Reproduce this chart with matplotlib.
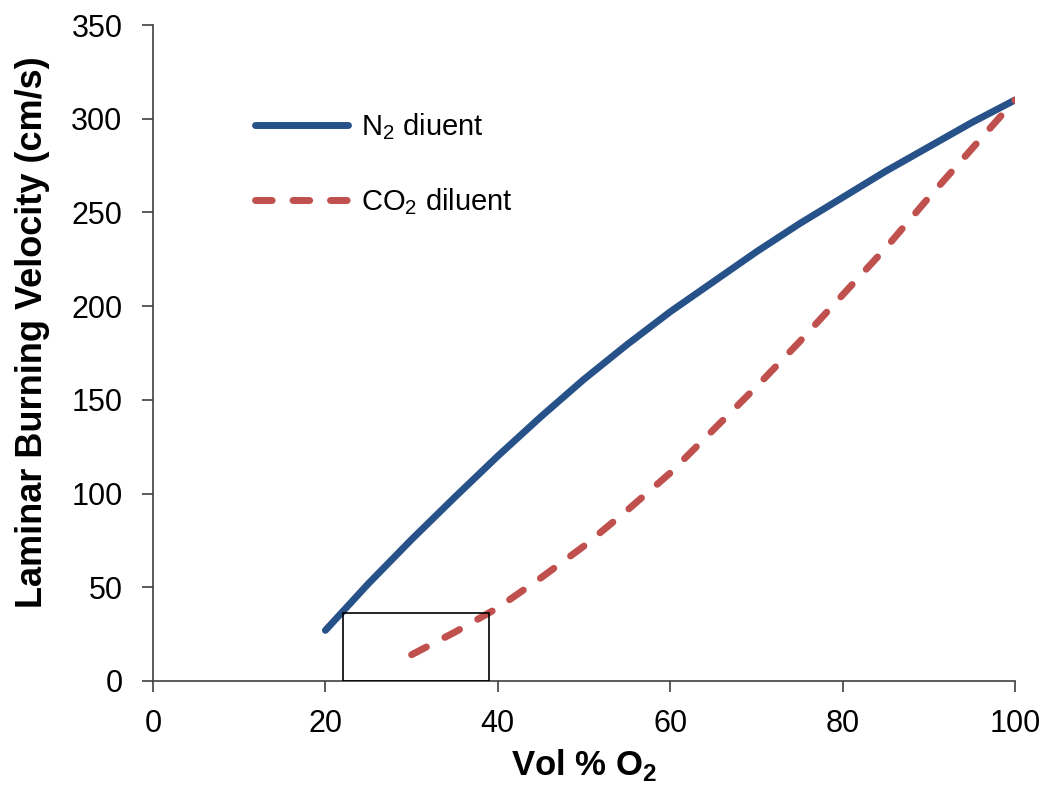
import matplotlib
matplotlib.use("Agg")
import matplotlib.pyplot as plt
from matplotlib.patches import Rectangle

plt.rcParams['font.family'] = ['Liberation Sans', 'DejaVu Sans']
plt.rcParams['mathtext.fontset'] = 'custom'
plt.rcParams['mathtext.rm'] = 'Liberation Sans'
plt.rcParams['mathtext.bf'] = 'Liberation Sans:bold'

# N2 diluent curve
n2_o2 = [20, 25, 30, 35, 40, 45, 50, 55, 60, 65, 70, 75, 80, 85, 90, 95, 100]
n2_vel = [27, 52, 75.5, 98, 120, 141, 161, 179.5, 197, 213, 229, 244, 258, 272, 285, 298, 310]

# CO2 diluent curve
co2_o2 = [30, 35, 40, 45, 50, 55, 60, 65, 70, 75, 80, 85, 90, 95, 100]
co2_vel = [14, 26, 39, 55, 72, 91, 111, 134, 157, 181, 206, 231, 258, 284, 310]

# highlighted box (x range, top)
box_x = [22, 39]
box_top = 36

fig = plt.figure(figsize=(10.5, 7.92), dpi=100)
ax = fig.add_axes([0.1457, 0.1402, 0.821, 0.8282])

ax.plot(n2_o2, n2_vel, color='#275189', lw=5, solid_capstyle='round',
        solid_joinstyle='round', label='N$_2$ diuent')
ax.plot(co2_o2, co2_vel, color='#C0504D', lw=5, dashes=(2.4, 3.0),
        dash_capstyle='round', dash_joinstyle='round', label='CO$_2$ diluent')

ax.add_patch(Rectangle((box_x[0], 0), box_x[1] - box_x[0], box_top,
                       fill=False, edgecolor='black', lw=1.2, zorder=3))

ax.set_xlim(0, 100)
ax.set_ylim(0, 350)
ax.set_xticks(range(0, 101, 20))
ax.set_yticks(range(0, 351, 50))

for s in ['top', 'right']:
    ax.spines[s].set_visible(False)
for s in ['left', 'bottom']:
    ax.spines[s].set_color('#404040')
    ax.spines[s].set_linewidth(1.2)
ax.tick_params(direction='out', length=8, width=1.2, color='#404040',
               labelsize=22)
ax.tick_params(axis='y', pad=14)
ax.tick_params(axis='x', pad=12)

ax.set_xlabel('Vol % O$_\\mathbf{2}$', fontsize=25, fontweight='bold', labelpad=6)
ax.set_ylabel('Laminar Burning Velocity (cm/s)', fontsize=26, fontweight='bold')
ax.yaxis.set_label_coords(-0.12, 0.532)

ax.legend(loc='upper left', bbox_to_anchor=(0.118, 0.868), frameon=False,
          borderaxespad=0, borderpad=0,
          fontsize=21, handlelength=3.2, labelspacing=1.5, handletextpad=0.45)

fig.savefig('out.png', dpi=100)
